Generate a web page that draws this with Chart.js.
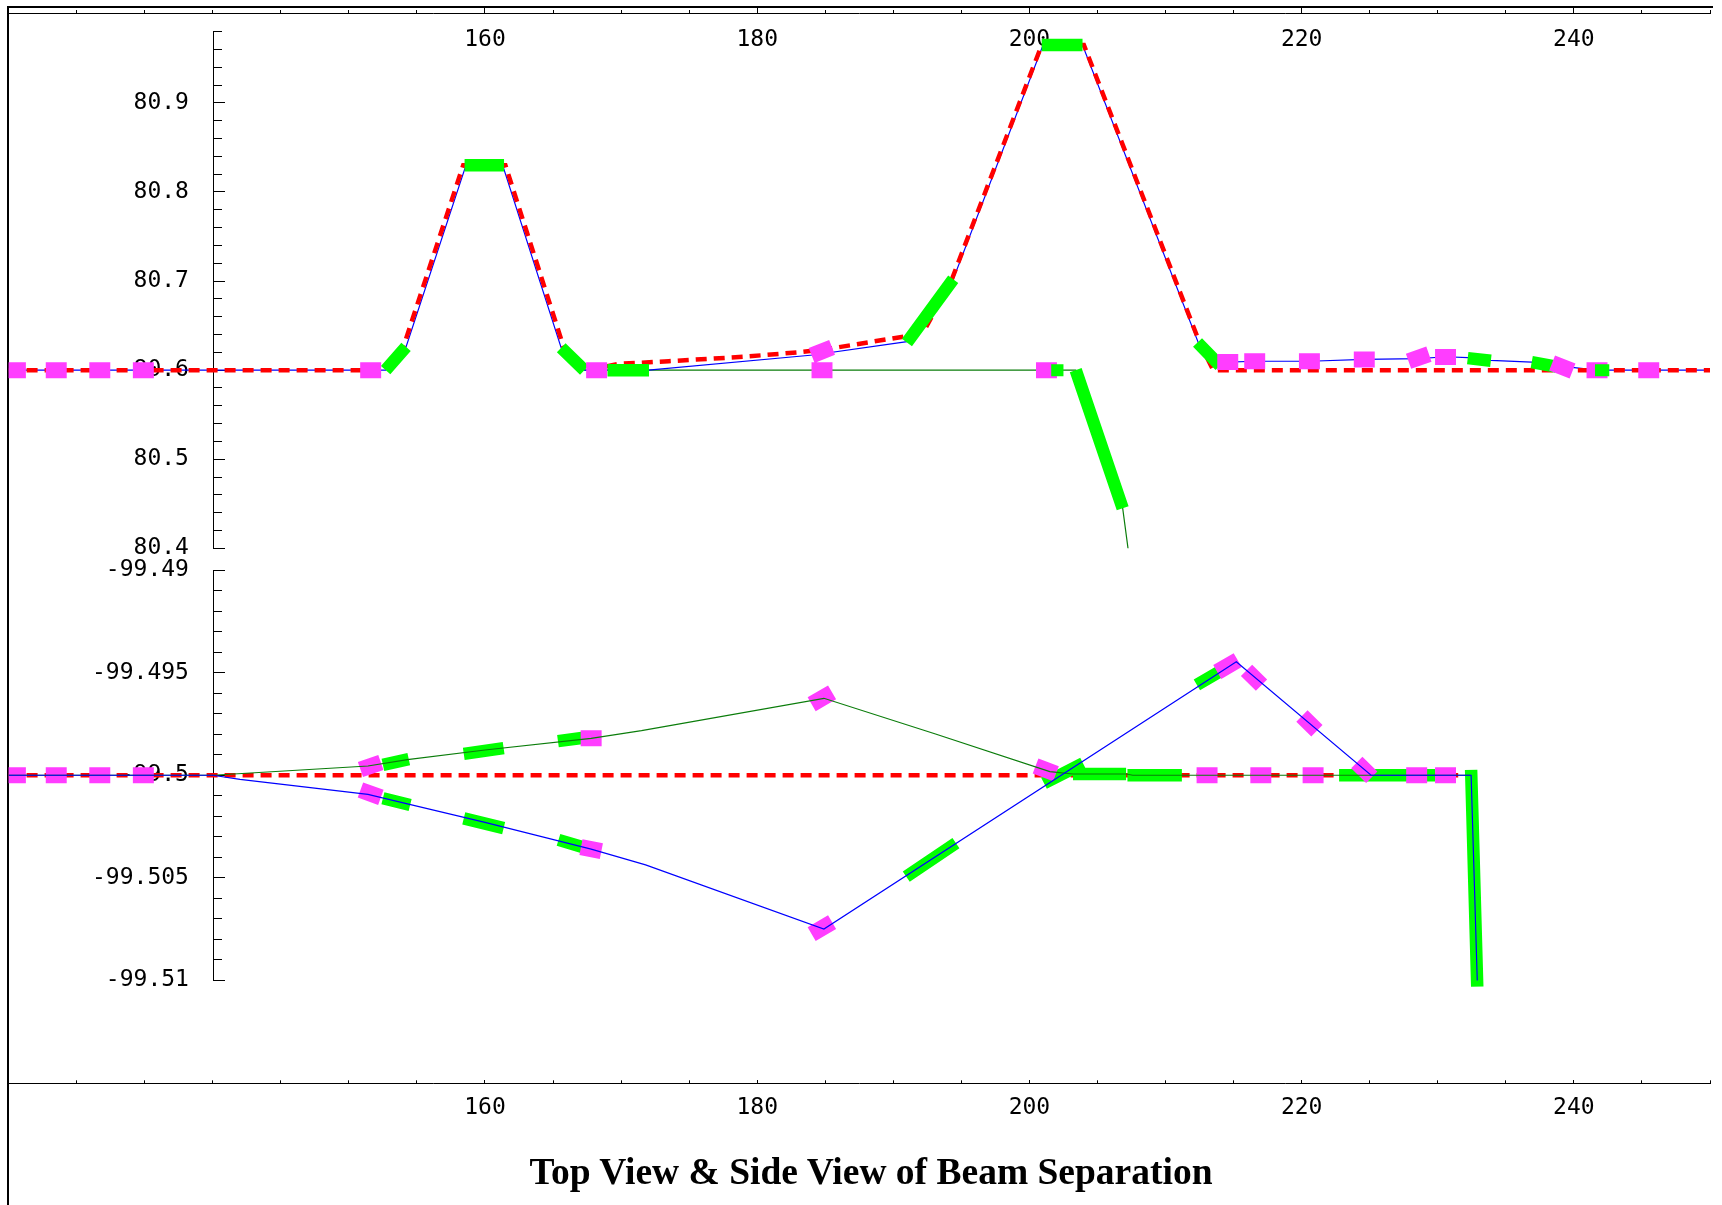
<!DOCTYPE html>
<html>
<head>
<meta charset="utf-8">
<title>Top View &amp; Side View of Beam Separation</title>
<script src="https://cdn.jsdelivr.net/npm/chart.js@4.4.0/dist/chart.umd.min.js"></script>
<style>
  html, body { margin: 0; padding: 0; background: #fff; }
  #page { position: relative; width: 1722px; height: 1205px; overflow: hidden; }
  #page canvas { position: absolute; left: 0; top: 0; }
  #frame { position: absolute; left: 7px; top: 6px; width: 1704px; height: 1205px;
           border-top: 2px solid #000; border-left: 2px solid #000; }
  #title { position: absolute; left: 871px; top: 1151px; transform: translateX(-50%);
           white-space: nowrap; font: bold 37.5px/42px "Liberation Serif", "Times New Roman", serif; color: #000; }
</style>
</head>
<body>
<div id="page">
  <div id="frame"></div>
  <canvas id="topView" width="1722" height="1205"></canvas>
  <canvas id="sideView" width="1722" height="1205"></canvas>
  <div id="title">Top View &amp; Side View of Beam Separation</div>
</div>
<script>
// Longitudinal position along the beam line
const xMin = 125;
const xMax = 250;
const xAxisAt = 140;
const xTickLabels = [160, 180, 200, 220, 240];

// ---- Top view (horizontal plane) ----
const topYLabels = [80.4, 80.5, 80.6, 80.7, 80.8, 80.9];

const topBlue = [
  [125, 80.6], [152.7, 80.6], [154.2, 80.626], [158.6, 80.83], [161.3, 80.83],
  [165.6, 80.625], [167.3, 80.6], [172, 80.6], [184.1, 80.617], [191, 80.632],
  [194.4, 80.702], [201, 80.965], [203.9, 80.965], [212.4, 80.631], [214, 80.606],
  [214.6, 80.609], [216.5, 80.61], [220.6, 80.61], [224.6, 80.612], [228.6, 80.613],
  [230.6, 80.615], [232.2, 80.614], [233.9, 80.611], [236.9, 80.609], [238.7, 80.605],
  [241.7, 80.6], [250, 80.6]
];

const topRed = [
  [125, 80.6], [152.5, 80.6], [154.0, 80.626], [158.4, 80.83], [161.5, 80.83],
  [165.8, 80.625], [167.5, 80.6], [169.8, 80.607], [173.5, 80.61], [179, 80.615],
  [183, 80.62], [185.3, 80.624], [190.9, 80.638], [192.4, 80.648], [194.3, 80.702],
  [200.9, 80.965], [204, 80.965], [212.5, 80.631], [213.5, 80.6], [250, 80.6]
];

const topGreen = [
  [167.3, 80.6], [203.4, 80.6], [206.85, 80.445], [208.2, 80.29]
];

// magnets: [x1, y1, x2, y2]
const topMagnets = [
  [152.7, 80.6, 154.2, 80.626],
  [158.5, 80.83, 161.4, 80.83],
  [165.6, 80.625, 167.3, 80.6],
  [169.0, 80.6, 172.05, 80.6],
  [191.0, 80.631, 194.4, 80.702],
  [200.9, 80.965, 203.9, 80.965],
  [203.4, 80.6, 206.85, 80.445],
  [212.35, 80.631, 214.0, 80.605],
  [232.2, 80.6135, 233.9, 80.6105],
  [236.9, 80.609, 238.7, 80.604]
];

const topCorrectors = [
  [201.6, 80.6, 202.5, 80.6],
  [241.55, 80.6, 242.6, 80.6]
];

// monitors lying flat on a line: [x, y]
const topMonitors = [
  [125.5, 80.6], [128.5, 80.6], [131.7, 80.6], [134.9, 80.6], [151.6, 80.6],
  [168.2, 80.6], [184.76, 80.6], [201.25, 80.6], [214.57, 80.609], [216.55, 80.61],
  [220.57, 80.61], [224.6, 80.612], [230.57, 80.6148], [241.7, 80.6], [245.5, 80.6]
];

// monitors on a sloped stretch: [x1, y1, x2, y2]
const topMonitorsTilted = [
  [184.0, 80.6165, 185.5, 80.6255],
  [227.85, 80.61, 229.35, 80.618],
  [238.4, 80.608, 239.9, 80.599]
];

// ---- Side view (vertical plane) ----
const sideYLabels = [-99.51, -99.505, -99.5, -99.495, -99.49];

const sideBlue = [
  [125, -99.5], [140, -99.5], [142, -99.5002], [151.4, -99.50093], [154.3, -99.5014],
  [160, -99.5023], [167.8, -99.5036], [171.8, -99.50437], [184.9, -99.5075],
  [215.2, -99.49447], [225.1, -99.5], [232.45, -99.5], [232.9, -99.51]
];

const sideGreen = [
  [125, -99.5], [140, -99.5], [151.4, -99.49955], [154.3, -99.49924], [160, -99.49877],
  [167.8, -99.4982], [171.5, -99.49783], [184.9, -99.49625], [193.1, -99.49799],
  [201.5, -99.49982], [203.2, -99.49994], [207.1, -99.49994], [207.6, -99.5], [232.4, -99.5]
];

const sideRed = [
  [125, -99.5], [231.5, -99.5]
];

const sideMagnets = [
  [152.5, -99.4995, 154.4, -99.49922],
  [158.44, -99.49896, 161.37, -99.49868],
  [165.36, -99.49834, 167.52, -99.49815],
  [152.5, -99.50112, 154.5, -99.50145],
  [158.44, -99.5021, 161.37, -99.50258],
  [165.4, -99.50315, 167.4, -99.50355],
  [190.95, -99.50494, 194.6, -99.50331],
  [201.07, -99.50039, 203.94, -99.49942],
  [203.2, -99.49994, 207.1, -99.49994],
  [207.2, -99.5, 211.2, -99.5],
  [212.3, -99.4956, 215.2, -99.49447],
  [222.75, -99.5, 229.8, -99.5],
  [232.45, -99.49974, 232.9, -99.5103]
];

const sideMonitors = [
  [125.5, -99.5], [128.5, -99.5], [131.7, -99.5], [134.9, -99.5], [167.8, -99.4982],
  [213.05, -99.5], [217.0, -99.5], [220.84, -99.5], [228.45, -99.5], [230.57, -99.5]
];

const sideMonitorsTilted = [
  [150.85, -99.49972, 152.35, -99.49938],
  [150.85, -99.50072, 152.35, -99.50108],
  [167.05, -99.5035, 168.55, -99.5037],
  [184.0, -99.49654, 185.5, -99.49596],
  [184.0, -99.50774, 185.5, -99.50716],
  [200.45, -99.49955, 201.95, -99.49993],
  [213.8, -99.49497, 215.3, -99.49439],
  [215.95, -99.49489, 217.05, -99.49561],
  [220.02, -99.49711, 221.12, -99.49783],
  [224.05, -99.49938, 225.15, -99.5001]
];

// ---- styling ----
const MONITOR_HALF = 0.77;   // half length of a monitor block, in x units
const LABEL_GAP = 1.75;      // y labels sit this far (x units) left of the axis
const tickFont = { family: 'DejaVu Sans Mono', size: 23 };

const toPoints = rows => rows.map(([x, y]) => ({ x, y }));
const toSegments = rows => rows.flatMap(([x1, y1, x2, y2]) =>
  [{ x: x1, y: y1 }, { x: x2, y: y2 }, { x: x2, y: null }]);
const flatBlocks = rows => toSegments(rows.map(([x, y]) => [x - MONITOR_HALF, y, x + MONITOR_HALF, y]));

function line(data, color, width, extra) {
  return Object.assign({
    data,
    borderColor: color,
    backgroundColor: color,
    borderWidth: width,
    pointRadius: 0,
    fill: false,
    spanGaps: false,
    tension: 0
  }, extra || {});
}

// draws the vertical axis only over the range that carries ticks
const yAxisLine = {
  id: 'yAxisLine',
  beforeDatasetsDraw(chart) {
    const { ctx, scales } = chart;
    const ticks = scales.yMinor.ticks;
    const x = Math.round(scales.x.getPixelForValue(xAxisAt)) + 0.5;
    ctx.save();
    ctx.strokeStyle = '#000';
    ctx.lineWidth = 1;
    ctx.beginPath();
    ctx.moveTo(x, scales.yMinor.getPixelForValue(ticks[0].value));
    ctx.lineTo(x, scales.yMinor.getPixelForValue(ticks[ticks.length - 1].value));
    ctx.stroke();
    ctx.restore();
  }
};

function buildChart(id, cfg) {
  const tickGrid = len => ({ drawOnChartArea: false, tickLength: -len, color: '#000', tickColor: '#000', tickWidth: 1 });
  const yRange = { type: 'linear', min: cfg.yMin, max: cfg.yMax };
  return new Chart(document.getElementById(id), {
    type: 'line',
    data: { datasets: cfg.datasets },
    options: {
      responsive: false,
      animation: false,
      devicePixelRatio: 1,
      layout: { padding: cfg.padding },
      plugins: { legend: { display: false }, tooltip: { enabled: false }, title: { display: false } },
      scales: {
        x: {
          type: 'linear', min: xMin, max: xMax,
          position: { y: cfg.xAxisValue },
          afterBuildTicks: s => { s.ticks = xTickLabels.map(value => ({ value })); },
          grid: tickGrid(cfg.xMajorTick),
          border: { display: true, color: '#000', width: 1 },
          ticks: { padding: cfg.xLabelPad, font: tickFont, color: '#000', autoSkip: false, maxRotation: 0,
                   callback: v => String(v) }
        },
        xMinor: {
          axis: 'x', type: 'linear', min: xMin, max: xMax,
          position: { y: cfg.xAxisValue },
          grid: tickGrid(cfg.xMinorTick),
          border: { display: false },
          ticks: { display: false, stepSize: 5 }
        },
        // value labels, set off to the left of the axis
        y: Object.assign({}, yRange, {
          position: { x: xAxisAt - LABEL_GAP },
          afterBuildTicks: s => { s.ticks = cfg.yLabels.map(value => ({ value })); },
          grid: { display: false, drawTicks: false },
          border: { display: false },
          ticks: { padding: 0, font: tickFont, color: '#000', autoSkip: false,
                   callback: v => String(+v.toFixed(3)) }
        }),
        yMajor: Object.assign({ axis: 'y' }, yRange, {
          position: { x: xAxisAt },
          afterBuildTicks: s => { s.ticks = cfg.yLabels.map(value => ({ value })); },
          grid: tickGrid(12),
          border: { display: false },
          ticks: { display: false }
        }),
        yMinor: Object.assign({ axis: 'y' }, yRange, {
          position: { x: xAxisAt },
          afterBuildTicks: s => {
            s.ticks = s.ticks.filter(t => t.value >= cfg.yTickFrom - 1e-9 && t.value <= cfg.yTickTo + 1e-9);
          },
          grid: tickGrid(9),
          border: { display: false },
          ticks: { display: false, stepSize: cfg.yMinorStep }
        })
      }
    },
    plugins: [yAxisLine]
  });
}

const GREEN = '#00ff00';
const MAGENTA = '#ff3dff';
const BLUE = '#0000ff';
const DARK_GREEN = '#0b7d0b';
const RED = '#ff0000';
const dashed = { borderDash: [11, 7] };

// first dataset is painted last (on top)
buildChart('topView', {
  padding: { left: 8.6, right: 12, top: 13.3, bottom: 656.7 },
  xAxisValue: 81.0, xMajorTick: 6, xMinorTick: 4, xLabelPad: 18.9,
  yMin: 80.4, yMax: 81.0, yLabels: topYLabels, yMinorStep: 0.02, yTickFrom: 80.4, yTickTo: 80.98,
  datasets: [
    line(toSegments(topCorrectors), GREEN, 12),
    line(flatBlocks(topMonitors).concat(toSegments(topMonitorsTilted)), MAGENTA, 16),
    line(toSegments(topMagnets), GREEN, 12.5),
    line(toPoints(topRed), RED, 4.5, dashed),
    line(toPoints(topBlue), BLUE, 1.2),
    line(toPoints(topGreen), DARK_GREEN, 1.2)
  ]
});

buildChart('sideView', {
  padding: { left: 8.6, right: 12, top: 548.3, bottom: 122 },
  xAxisValue: -99.515, xMajorTick: 4, xMinorTick: 2.7, xLabelPad: 15.4,
  yMin: -99.515, yMax: -99.48894, yLabels: sideYLabels, yMinorStep: 0.001, yTickFrom: -99.51, yTickTo: -99.49,
  datasets: [
    line(toPoints(sideBlue), BLUE, 1.2),
    line(toPoints(sideGreen), DARK_GREEN, 1.2),
    line(flatBlocks(sideMonitors).concat(toSegments(sideMonitorsTilted)), MAGENTA, 16),
    line(toSegments(sideMagnets), GREEN, 12.5),
    line(toPoints(sideRed), RED, 4.5, dashed)
  ]
});
</script>
</body>
</html>
